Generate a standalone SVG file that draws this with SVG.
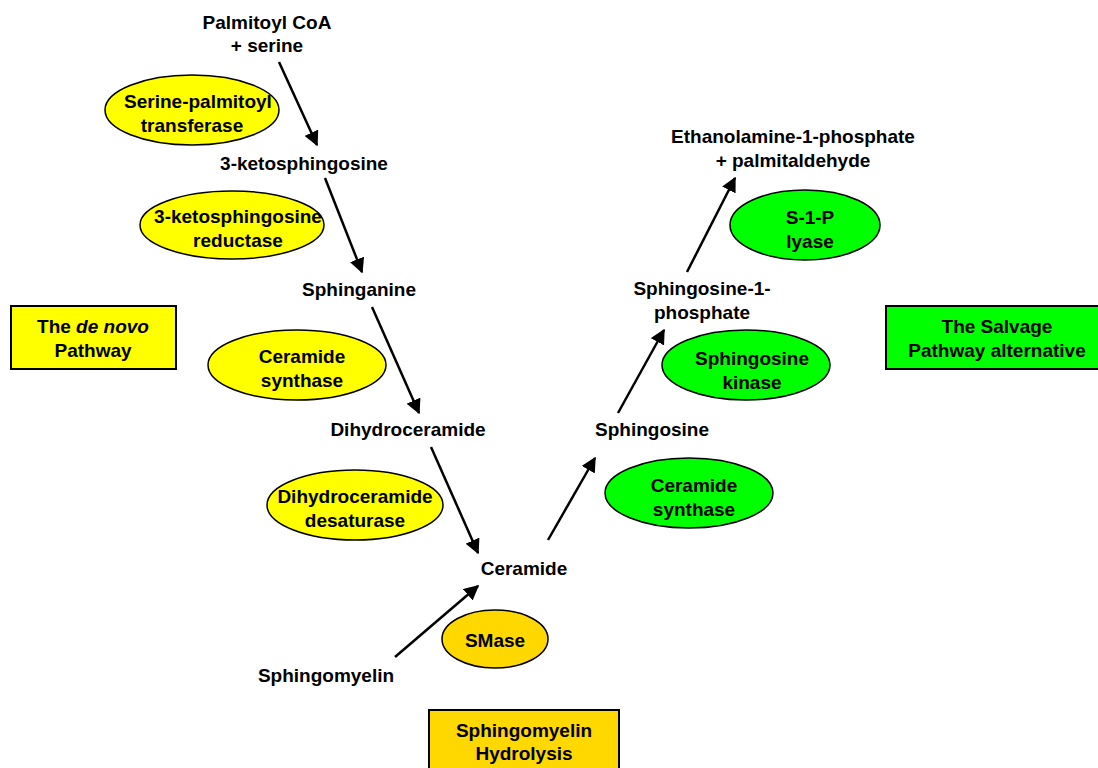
<svg xmlns="http://www.w3.org/2000/svg" width="1098" height="768" viewBox="0 0 1098 768">
<style>
text{font-family:"Liberation Sans",Arial,sans-serif;font-weight:bold;font-size:19px;fill:#000;text-anchor:middle}
.y{fill:#FFFF00;stroke:#000;stroke-width:1.5}
.g{fill:#00FF00;stroke:#000;stroke-width:1.5}
.o{fill:#FFD800;stroke:#000;stroke-width:1.5}
.b{stroke:#000;stroke-width:2}
.c line{stroke:#000;stroke-width:2.5;marker-end:url(#ah)}
</style>
<defs>
<marker id="ah" viewBox="0 0 10 10" refX="9" refY="5" markerWidth="6" markerHeight="6" orient="auto" markerUnits="strokeWidth">
<path d="M0,0 L10,5 L0,10 z" fill="#000"/>
</marker>
</defs>
<rect width="1098" height="768" fill="#fff"/>
<g class="c" id="connectors">
<line x1="279" y1="62" x2="317" y2="145"/>
<line x1="325" y1="178" x2="362" y2="272"/>
<line x1="372" y1="307" x2="419" y2="413"/>
<line x1="431" y1="447" x2="478" y2="553"/>
<line x1="395" y1="657" x2="478" y2="586"/>
<line x1="548" y1="540" x2="595" y2="458"/>
<line x1="618" y1="413" x2="664" y2="330"/>
<line x1="687" y1="272" x2="735" y2="178"/>
</g>
<g id="palmitoyl"><text x="267" y="29">Palmitoyl CoA</text><text x="267" y="52">+ serine</text></g>
<g id="spt"><ellipse class="y" cx="192" cy="110" rx="87" ry="35"/><text x="198" y="108">Serine-palmitoyl</text><text x="192" y="132">transferase</text></g>
<g id="ketosph"><text x="304" y="170">3-ketosphingosine</text></g>
<g id="ksr"><ellipse class="y" cx="232" cy="225" rx="92" ry="34"/><text x="238" y="223">3-ketosphingosine</text><text x="238" y="247">reductase</text></g>
<g id="sphinganine"><text x="359" y="296">Sphinganine</text></g>
<g id="denovo"><rect class="b y" x="11" y="306" width="165" height="63"/><text x="93" y="333">The <tspan font-style="italic">de novo</tspan></text><text x="93" y="357">Pathway</text></g>
<g id="cersy"><ellipse class="y" cx="297" cy="365" rx="89" ry="35"/><text x="302" y="363">Ceramide</text><text x="302" y="387">synthase</text></g>
<g id="dihydrocer"><text x="408" y="436">Dihydroceramide</text></g>
<g id="desat"><ellipse class="y" cx="355" cy="505" rx="88" ry="35"/><text x="355" y="503">Dihydroceramide</text><text x="355" y="527">desaturase</text></g>
<g id="ceramide"><text x="524" y="575">Ceramide</text></g>
<g id="smase"><ellipse class="o" cx="495" cy="639" rx="53" ry="29"/><text x="495" y="647">SMase</text></g>
<g id="sphingomyelin"><text x="326" y="682">Sphingomyelin</text></g>
<g id="smh"><rect class="b o" x="429" y="710" width="190" height="62"/><text x="524" y="737">Sphingomyelin</text><text x="524" y="760">Hydrolysis</text></g>
<g id="sphingosine"><text x="652" y="436">Sphingosine</text></g>
<g id="cersg"><ellipse class="g" cx="689" cy="493" rx="84" ry="35"/><text x="694" y="492">Ceramide</text><text x="694" y="516">synthase</text></g>
<g id="s1p"><text x="702" y="295">Sphingosine-1-</text><text x="702" y="319">phosphate</text></g>
<g id="sk"><ellipse class="g" cx="746" cy="365" rx="84" ry="35"/><text x="752" y="365">Sphingosine</text><text x="752" y="389">kinase</text></g>
<g id="salvage"><rect class="b g" x="886" y="306" width="214" height="63"/><text x="997" y="333">The Salvage</text><text x="997" y="357">Pathway alternative</text></g>
<g id="lyase"><ellipse class="g" cx="805" cy="225" rx="75" ry="35"/><text x="810" y="224">S-1-P</text><text x="810" y="248">lyase</text></g>
<g id="ethanolamine"><text x="793" y="143">Ethanolamine-1-phosphate</text><text x="793" y="167">+ palmitaldehyde</text></g>
</svg>
